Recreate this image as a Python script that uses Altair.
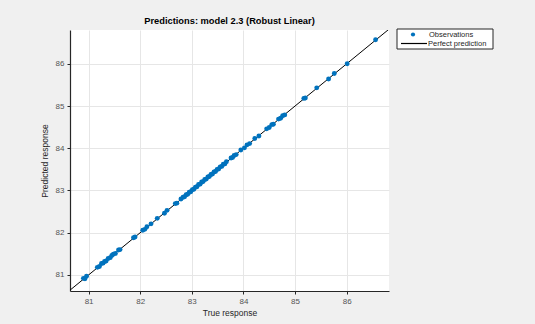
import altair as alt
import pandas as pd

# True vs. predicted response for each observation (model 2.3, robust linear)
true_response = [
    80.90, 80.93, 80.96, 81.17, 81.21, 81.25, 81.28, 81.31, 81.34, 81.38,
    81.42, 81.45, 81.48, 81.52, 81.58, 81.61, 81.87, 81.90, 82.05, 82.09,
    82.13, 82.21, 82.33, 82.47, 82.52, 82.68, 82.71, 82.79, 82.83, 82.86,
    82.89, 82.92, 82.95, 82.98, 83.01, 83.04, 83.07, 83.10, 83.13, 83.16,
    83.19, 83.22, 83.25, 83.28, 83.31, 83.34, 83.37, 83.40, 83.43, 83.46,
    83.49, 83.52, 83.55, 83.58, 83.61, 83.64, 83.67, 83.76, 83.79, 83.82,
    83.86, 83.95, 84.02, 84.07, 84.12, 84.22, 84.30, 84.45, 84.50, 84.55,
    84.58, 84.68, 84.72, 84.76, 84.80, 85.17, 85.20, 85.42, 85.65, 85.76,
    86.01, 86.56,
]
predicted_response = [
    80.92, 80.91, 80.97, 81.18, 81.20, 81.27, 81.28, 81.32, 81.33, 81.39,
    81.41, 81.46, 81.49, 81.51, 81.59, 81.60, 81.88, 81.90, 82.06, 82.08,
    82.14, 82.21, 82.34, 82.46, 82.53, 82.69, 82.70, 82.80, 82.84, 82.85,
    82.90, 82.91, 82.96, 82.97, 83.02, 83.03, 83.08, 83.09, 83.14, 83.15,
    83.20, 83.21, 83.26, 83.27, 83.32, 83.33, 83.38, 83.39, 83.44, 83.45,
    83.50, 83.51, 83.56, 83.57, 83.62, 83.63, 83.68, 83.77, 83.78, 83.83,
    83.85, 83.96, 84.01, 84.08, 84.11, 84.23, 84.29, 84.46, 84.49, 84.56,
    84.57, 84.69, 84.71, 84.77, 84.79, 85.18, 85.19, 85.43, 85.64, 85.77,
    86.00, 86.57,
]

# Axis limits and the identity line drawn across them
x_limits = [80.64, 86.82]
y_limits = [80.62, 86.80]
ident_ends = [80.60, 86.85]
tick_values = [81, 82, 83, 84, 85, 86]

series_names = ["Observations", "Perfect prediction"]
OBS_BLUE = "#0072BD"
FONT = "Liberation Sans"

obs = pd.DataFrame({"true": true_response, "pred": predicted_response})
ident = pd.DataFrame({"true": ident_ends, "pred": ident_ends})
one_row = pd.DataFrame({"k": [0]})

x_scale = alt.Scale(domain=x_limits, nice=False, zero=False)
y_scale = alt.Scale(domain=y_limits, nice=False, zero=False)

axis_style = dict(
    values=tick_values, format="d",
    grid=True, gridColor="#e6e6e6", gridWidth=1,
    domainColor="#262626", domainWidth=1.2,
    tickColor="#262626", tickSize=3, labelPadding=3,
    labelColor="#555555", labelFontSize=8, labelFont=FONT,
    titleColor="#262626", titleFontSize=8.5, titleFont=FONT,
    titleFontWeight="normal",
)
x_axis = alt.Axis(title="True response", titlePadding=3, **axis_style)
y_axis = alt.Axis(title="Predicted response", titlePadding=6, **axis_style)

line = alt.Chart(ident).mark_line(color="black", strokeWidth=1, clip=True).encode(
    x=alt.X("true:Q", scale=x_scale, axis=x_axis),
    y=alt.Y("pred:Q", scale=y_scale, axis=y_axis),
)

points = alt.Chart(obs).mark_point(
    filled=True, size=24, opacity=1, color=OBS_BLUE
).encode(
    x=alt.X("true:Q", scale=x_scale),
    y=alt.Y("pred:Q", scale=y_scale),
)

# Legend box in the upper right, outside the plot area
legend_box = alt.Chart(one_row).mark_rect(
    fill="white", stroke="#262626", strokeWidth=1
).encode(
    x=alt.value(327), x2=alt.value(423), y=alt.value(-1), y2=alt.value(19)
)
legend_dot = alt.Chart(one_row).mark_point(
    filled=True, size=18, opacity=1, color=OBS_BLUE
).encode(x=alt.value(343), y=alt.value(4.5))
legend_line = alt.Chart(one_row).mark_rule(color="black", strokeWidth=1.2).encode(
    x=alt.value(331), x2=alt.value(357), y=alt.value(13.5)
)
legend_text_obs = alt.Chart(one_row).mark_text(
    text=series_names[0], align="left", baseline="middle",
    font=FONT, fontSize=7.5, color="#262626",
).encode(x=alt.value(359), y=alt.value(4.5))
legend_text_fit = alt.Chart(one_row).mark_text(
    text=series_names[1], align="left", baseline="middle",
    font=FONT, fontSize=7.5, color="#262626",
).encode(x=alt.value(358), y=alt.value(13.5))

chart = alt.layer(
    line, points, legend_box, legend_dot, legend_line,
    legend_text_obs, legend_text_fit,
).properties(
    width=319,
    height=261,
    title=alt.Title(
        "Predictions: model 2.3 (Robust Linear)",
        font=FONT, fontSize=9.3, fontWeight="bold", color="#000000",
        anchor="middle", offset=2,
    ),
    background="#f0f0f0",
    padding={"left": 70, "top": 30, "right": 146, "bottom": 33},
    autosize=alt.AutoSizeParams(type="none"),
).configure_view(
    fill="white",
    stroke=None,
)

chart.save("out.html", embed_options={"renderer": "svg", "actions": False})
